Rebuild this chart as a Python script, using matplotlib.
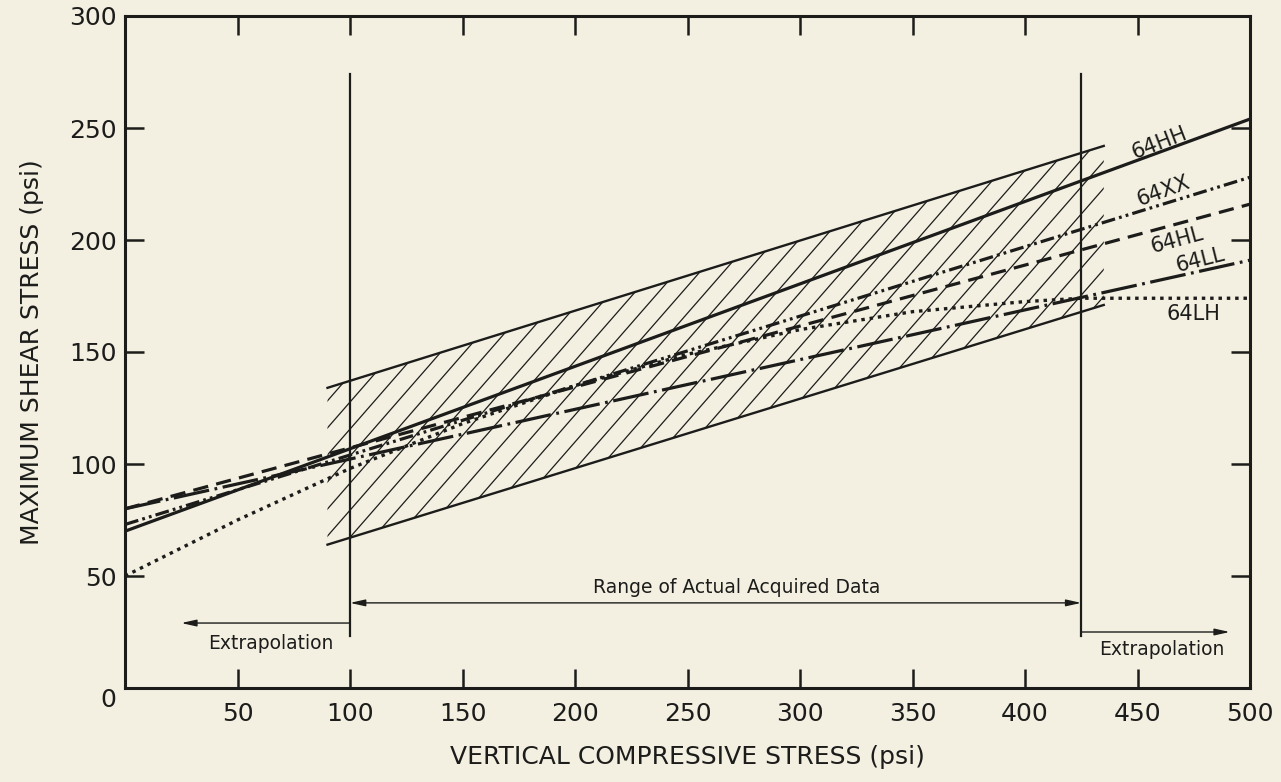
import numpy as np
import matplotlib.pyplot as plt
from matplotlib.patches import Polygon

plt.rcParams['font.family'] = ['DejaVu Sans']
plt.rcParams['lines.scale_dashes'] = False

INK = '#1c1c1a'
PAPER = '#f3f0e2'

# ---------------------------------------------------------------
# data
# ---------------------------------------------------------------

# fitted lines: shear stress (psi) at 0 and 500 psi compressive stress
x_fit = [0, 500]
y_hh = [70, 254]
y_xx = [73, 228]
y_hl = [80, 216]
y_ll = [80, 191]

# 64LH is curved and levels off past the data range
x_lh = [0, 50, 100, 150, 200, 250, 300, 350, 400, 425, 500]
y_lh = [50, 75, 98, 118, 135, 149, 160, 168, 172.5, 174, 174]

# scatter band around the fits
band_x = [90, 435]
band_lo = [64, 171]
band_hi = [134, 242]

# range of acquired data
data_lo, data_hi = 100, 425

x_ticks = [0, 50, 100, 150, 200, 250, 300, 350, 400, 450, 500]
y_ticks = [0, 50, 100, 150, 200, 250, 300]

# ---------------------------------------------------------------
# figure
# ---------------------------------------------------------------

fig = plt.figure(figsize=(12.81, 7.82), dpi=100, facecolor=PAPER)
ax = fig.add_axes([125 / 1281, 94 / 782, 1125 / 1281, 672 / 782])
ax.set_facecolor(PAPER)
ax.set_xlim(0, 500)
ax.set_ylim(0, 300)

# hatched band, hatch drawn as clipped diagonals
band = Polygon([(band_x[0], band_lo[0]), (band_x[1], band_lo[1]),
                (band_x[1], band_hi[1]), (band_x[0], band_hi[0])],
               closed=True, fill=False, edgecolor='none')
ax.add_patch(band)
slope = 1.15     # data units
step = 10.5      # horizontal spacing, psi
for x0 in np.arange(-200, 500, step):
    ln, = ax.plot([x0, x0 + 400], [0, 400 * slope], color=INK, lw=0.9,
                  solid_capstyle='butt')
    ln.set_clip_path(band)
ax.plot(band_x, band_lo, color=INK, lw=1.7)
ax.plot(band_x, band_hi, color=INK, lw=1.7)

# fitted lines
ax.plot(x_fit, y_hh, color=INK, lw=2.3)
ax.plot(x_fit, y_xx, color=INK, lw=2.3, linestyle=(0, (10, 3, 2, 3, 2, 3)))
ax.plot(x_fit, y_hl, color=INK, lw=2.3, linestyle=(0, (11, 6)))
ax.plot(x_fit, y_ll, color=INK, lw=2.3, linestyle=(0, (26, 4, 2, 4)))
ax.plot(x_lh, y_lh, color=INK, lw=2.4, linestyle=(0, (2.5, 3.5)))

# data range markers
for xv in (data_lo, data_hi):
    ax.plot([xv, xv], [23, 274], color=INK, lw=1.6)

arrow = dict(arrowstyle='-|>,head_length=0.9,head_width=0.2', color=INK,
             lw=1.0, shrinkA=0, shrinkB=0)
both = dict(arrowstyle='<|-|>,head_length=0.9,head_width=0.2', color=INK,
            lw=1.0, shrinkA=0, shrinkB=0)
ax.annotate('', xy=(25, 29), xytext=(data_lo, 29), arrowprops=arrow)
ax.annotate('', xy=(data_lo, 38), xytext=(data_hi, 38), arrowprops=both)
ax.annotate('', xy=(491, 25), xytext=(data_hi, 25), arrowprops=arrow)

ax.text(272, 45, 'Range of Actual Acquired Data', fontsize=13.5,
        ha='center', va='center', color=INK)
ax.text(65, 20, 'Extrapolation', fontsize=13.5, ha='center', va='center',
        color=INK)
ax.text(461, 17, 'Extrapolation', fontsize=13.5, ha='center', va='center',
        color=INK)

# curve labels
labels = [('64HH', 459.5, 243.5, 21),
          ('64XX', 461.5, 222, 20),
          ('64HL', 467.5, 200, 15),
          ('64LL', 478, 191, 14),
          ('64LH', 475, 167, 0)]
for txt, lx, ly, rot in labels:
    ax.text(lx, ly, txt, fontsize=15, ha='center', va='center',
            rotation=rot, rotation_mode='anchor', color=INK)

# axes styling
for sp in ax.spines.values():
    sp.set_linewidth(2.2)
    sp.set_color(INK)
ax.set_xticks(x_ticks)
ax.set_yticks(y_ticks)
ax.set_xticklabels([''] + [str(v) for v in x_ticks[1:]])
ax.set_yticklabels([str(v) for v in y_ticks])
ax.tick_params(direction='in', length=14, width=1.8, color=INK,
               top=True, right=True, labelsize=18, labelcolor=INK)
ax.tick_params(axis='x', pad=10)
ax.tick_params(axis='y', pad=6)
ax.get_yticklabels()[0].set_va('top')

ax.set_xlabel('VERTICAL COMPRESSIVE STRESS (psi)', fontsize=18,
              color=INK, labelpad=14)
ax.set_ylabel('MAXIMUM SHEAR STRESS (psi)', fontsize=18, color=INK,
              labelpad=18)

fig.savefig('out.png', dpi=100, facecolor=PAPER)
